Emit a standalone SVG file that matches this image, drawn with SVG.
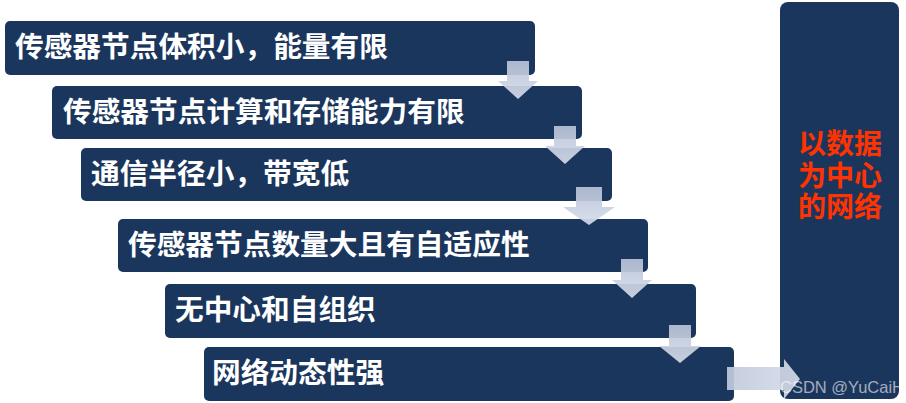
<svg xmlns="http://www.w3.org/2000/svg" width="906" height="403" viewBox="0 0 906 403">
<style>
.box{fill:#1b365d;}
.t{fill:#ffffff;font-family:"Noto Sans CJK SC","Noto Sans",sans-serif;font-size:28.7px;font-weight:bold;}
.r{fill:#ff3300;font-family:"Noto Sans CJK SC","Noto Sans",sans-serif;font-size:28px;font-weight:bold;text-anchor:middle;}
.arr{fill:url(#ag);opacity:0.92;}
.wm{fill:#ffffff;fill-opacity:0.6;font-family:"Liberation Sans",Arial,sans-serif;font-size:16.5px;}
</style>
<defs>
<linearGradient id="ag" x1="0" y1="0" x2="0" y2="1">
<stop offset="0" stop-color="#b9c3d8"/>
<stop offset="1" stop-color="#d6dce9"/>
</linearGradient>
<linearGradient id="ah" x1="0" y1="0" x2="1" y2="0">
<stop offset="0" stop-color="#c0c9dc"/>
<stop offset="1" stop-color="#d6dce9"/>
</linearGradient>
</defs>
<g id="n1"><rect class="box" x="5" y="21" width="530" height="54" rx="5"/><text class="t" x="15" y="57">传感器节点体积小，能量有限</text></g>
<g id="n2"><rect class="box" x="52" y="86" width="530" height="53" rx="5"/><text class="t" x="63" y="122">传感器节点计算和存储能力有限</text></g>
<g id="n3"><rect class="box" x="81" y="148" width="531" height="53" rx="5"/><text class="t" x="91" y="184">通信半径小，带宽低</text></g>
<g id="n4"><rect class="box" x="118" y="219" width="530" height="53" rx="5"/><text class="t" x="128" y="255">传感器节点数量大且有自适应性</text></g>
<g id="n5"><rect class="box" x="165" y="284" width="531" height="54" rx="5"/><text class="t" x="175" y="320">无中心和自组织</text></g>
<g id="n6"><rect class="box" x="204" y="347" width="530" height="54" rx="5"/><text class="t" x="212" y="383">网络动态性强</text></g>
<g id="n7"><rect class="box" x="780" y="2" width="119" height="397" rx="8"/>
<text class="r" x="840" y="154"><tspan x="840" y="154">以数据</tspan><tspan x="840" y="186">为中心</tspan><tspan x="840" y="217">的网络</tspan></text></g>
<g id="connectors">
<path class="arr" d="M507 61H529V81H538L518 99L498 81H507Z"/>
<path class="arr" d="M554 126H576V146H585L565 164L545 146H554Z"/>
<path class="arr" d="M576 187H602V207H615L589 225L563 207H576Z"/>
<path class="arr" d="M621 259H643V280H652L632 298L612 280H621Z"/>
<path class="arr" d="M669 325H691V346H701L680 363L659 346H669Z"/>
<path d="M727 367H784V359L800 379L784 399V390H727Z" fill="url(#ah)" opacity="0.92"/>
</g>
<text class="wm" x="780" y="393">CSDN @YuCaiH</text>
</svg>
